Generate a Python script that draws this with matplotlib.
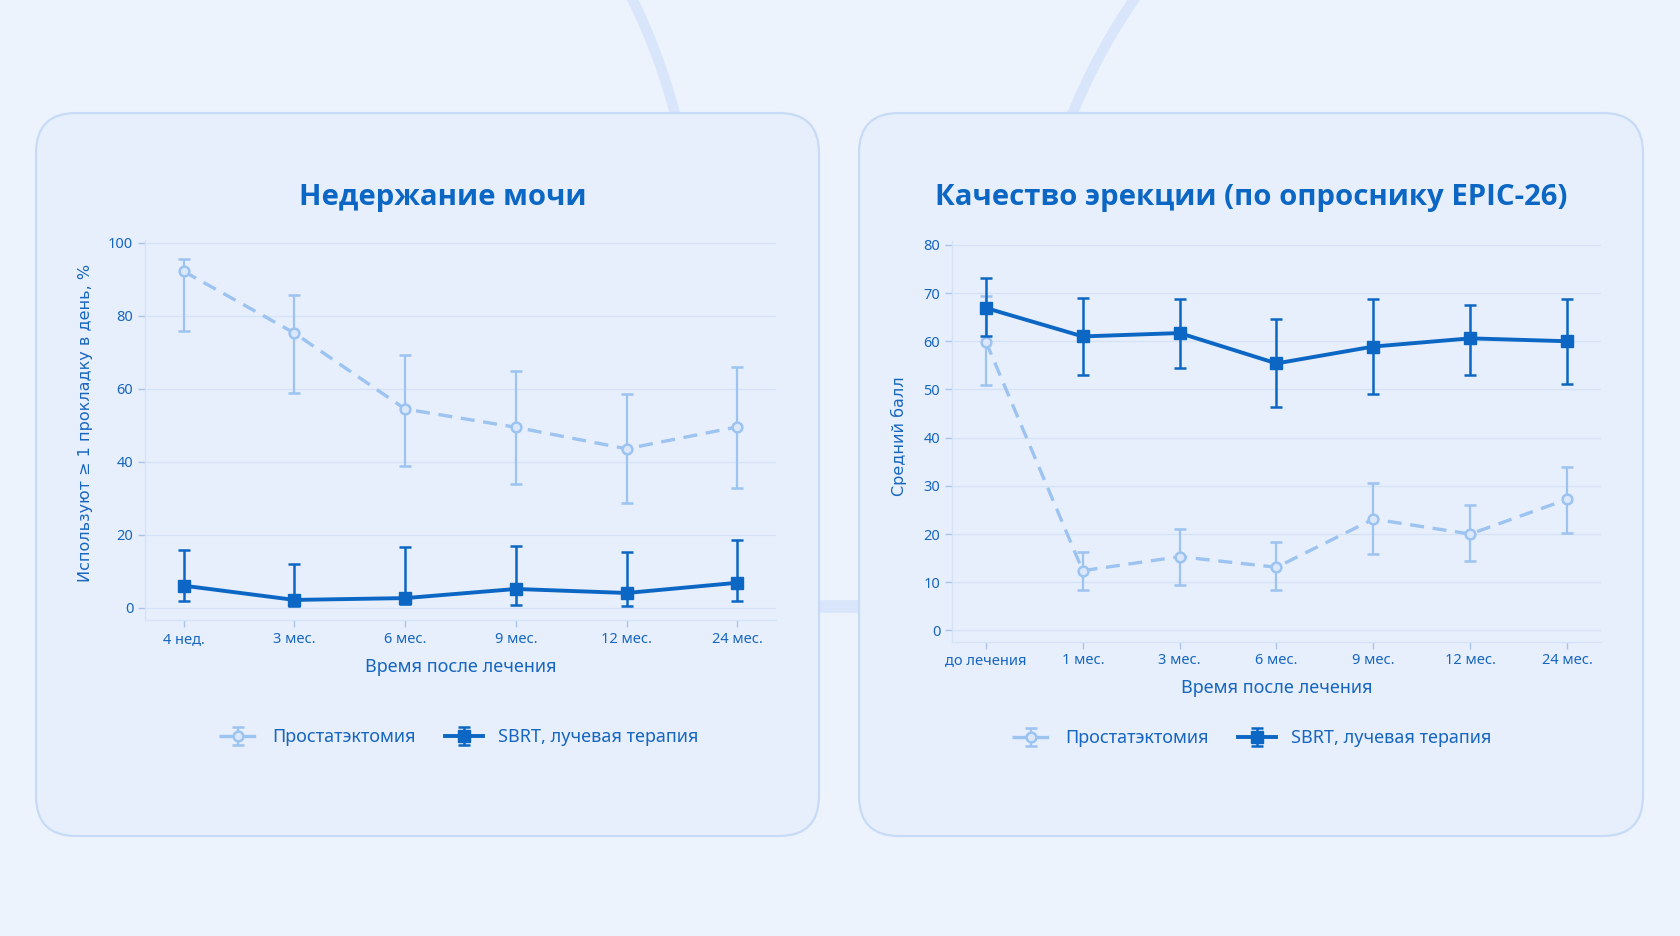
import matplotlib
matplotlib.use("Agg")
import matplotlib.pyplot as plt
from matplotlib.patches import FancyBboxPatch, Arc
import numpy as np

# ---------------- data ----------------
inc_categories = ["4 нед.", "3 мес.", "6 мес.", "9 мес.", "12 мес.", "24 мес."]
inc_prost = [92.2, 75.3, 54.5, 49.5, 43.6, 49.6]
inc_prost_low = [76.0, 58.8, 38.9, 34.0, 28.8, 32.9]
inc_prost_high = [95.6, 85.7, 69.3, 65.0, 58.5, 66.1]
inc_sbrt = [6.1, 2.2, 2.7, 5.2, 4.1, 6.9]
inc_sbrt_low = [1.9, 0.5, 1.0, 0.8, 0.6, 2.0]
inc_sbrt_high = [16.0, 12.1, 16.6, 16.9, 15.2, 18.5]

ere_categories = ["до лечения", "1 мес.", "3 мес.", "6 мес.", "9 мес.", "12 мес.", "24 мес."]
ere_prost = [59.9, 12.4, 15.3, 13.1, 23.1, 20.0, 27.2]
ere_prost_low = [50.9, 8.3, 9.4, 8.3, 15.9, 14.3, 20.3]
ere_prost_high = [69.4, 16.2, 21.0, 18.3, 30.6, 26.0, 34.0]
ere_sbrt = [66.9, 61.0, 61.7, 55.4, 58.9, 60.6, 60.0]
ere_sbrt_low = [61.0, 53.1, 54.4, 46.3, 49.1, 53.1, 51.2]
ere_sbrt_high = [73.1, 69.0, 68.7, 64.7, 68.7, 67.6, 68.7]

series_names = ["Простатэктомия", "SBRT, лучевая терапия"]
titles = ["Недержание мочи", "Качество эрекции (по опроснику EPIC-26)"]
ylabels = ["Используют ≥ 1 прокладку в день, %", "Средний балл"]
xlabel = "Время после лечения"

# ---------------- style ----------------
W, H = 1681, 936
BG = "#edf3fd"
CARD = "#e7effc"
CARD_EDGE = "#c8dbf6"
DECOR = "#d8e5fb"
DARK = "#0c67c4"
LIGHT = "#9dc3f1"
TEXT = "#1766c0"
GRID = "#d6e3f6"

fig = plt.figure(figsize=(W / 100, H / 100), dpi=100, facecolor=BG)

# background layer in pixel coordinates
bg = fig.add_axes([0, 0, 1, 1], zorder=-10)
bg.set_xlim(0, W)
bg.set_ylim(H, 0)
bg.axis("off")
bg.set_facecolor(BG)

# decorative arcs behind cards
bg.add_patch(Arc((94, 264), 1200, 1200, theta1=-40, theta2=-10, color=DECOR, lw=7.5, zorder=1))
bg.add_patch(Arc((1631, 341), 1206, 1206, theta1=196, theta2=225, color=DECOR, lw=7.5, zorder=1))
bg.plot([800, 880], [606, 606], color=DECOR, lw=9, solid_capstyle="butt", zorder=1)

for (x0, x1) in [(36, 819), (859, 1643)]:
    bg.add_patch(FancyBboxPatch((x0, 113), x1 - x0, 836 - 113,
                                boxstyle="round,pad=0,rounding_size=40",
                                facecolor=CARD, edgecolor=CARD_EDGE, lw=1.6, zorder=2))

def px_rect(left, top, right, bottom):
    return [left / W, 1 - bottom / H, (right - left) / W, (bottom - top) / H]

ax1 = fig.add_axes(px_rect(145, 240, 776, 620))
ax2 = fig.add_axes(px_rect(952, 241, 1601, 641.5))

def style_axes(ax, ncat, ylim, yticks):
    ax.set_facecolor("none")
    ax.set_xlim(-0.35, ncat - 1 + 0.35)
    ax.set_ylim(*ylim)
    ax.set_yticks(yticks)
    ax.grid(axis="y", color=GRID, lw=1.0, zorder=0)
    ax.set_axisbelow(True)
    for s in ["top", "right"]:
        ax.spines[s].set_visible(False)
    for s in ["left", "bottom"]:
        ax.spines[s].set_color(GRID)
        ax.spines[s].set_linewidth(1.0)
    ax.tick_params(axis="both", colors="#a9c5ea", labelcolor=TEXT, length=5, width=1.0,
                   labelsize=10.5)
    for lab in ax.get_xticklabels() + ax.get_yticklabels():
        lab.set_fontfamily("Noto Sans")

def draw(ax, cats, prost, plo, phi, sbrt, slo, shi):
    x = np.arange(len(cats))
    pe = [np.array(prost) - np.array(plo), np.array(phi) - np.array(prost)]
    se = [np.array(sbrt) - np.array(slo), np.array(shi) - np.array(sbrt)]
    h1 = ax.errorbar(x, prost, yerr=pe, color=LIGHT, ls=(0, (4.2, 2.6)), lw=2.4,
                     marker="o", ms=7, mfc="#dbe8fb", mec=LIGHT, mew=1.8,
                     ecolor=LIGHT, elinewidth=1.6, capsize=4.0, capthick=1.6,
                     label=series_names[0], zorder=3)
    h2 = ax.errorbar(x, sbrt, yerr=se, color=DARK, ls="-", lw=2.8,
                     marker="s", ms=9, mfc=DARK, mec=DARK,
                     ecolor=DARK, elinewidth=1.8, capsize=4.2, capthick=1.8,
                     label=series_names[1], zorder=4)
    ax.set_xticks(x)
    ax.set_xticklabels(cats)
    return h1, h2

draw(ax1, inc_categories, inc_prost, inc_prost_low, inc_prost_high,
     inc_sbrt, inc_sbrt_low, inc_sbrt_high)
draw(ax2, ere_categories, ere_prost, ere_prost_low, ere_prost_high,
     ere_sbrt, ere_sbrt_low, ere_sbrt_high)
style_axes(ax1, len(inc_categories), (-3.3, 100.8), np.arange(0, 101, 20))
style_axes(ax2, len(ere_categories), (-2.3, 80.8), np.arange(0, 81, 10))

for ax, yl, lx, ly in [(ax1, ylabels[0], -0.083, 0.518), (ax2, ylabels[1], -0.07, 0.512)]:
    ax.set_ylabel(yl, color=TEXT, fontsize=11.5, family="DejaVu Sans")
    ax.yaxis.set_label_coords(lx, ly)
    ax.set_xlabel(xlabel, color=TEXT, fontsize=13, family="Noto Sans", labelpad=8)

# titles
for (cx, cy), t in zip([(443, 197), (1251, 197)], titles):
    fig.text(cx / W, 1 - cy / H, t, ha="center", va="center", color=DARK,
             fontsize=21.2, fontweight="bold", family="Open Sans")

# legends
for ax, (cx, cy) in [(ax1, (459, 737)), (ax2, (1252, 738))]:
    leg = ax.legend(loc="center", bbox_to_anchor=(cx / W, 1 - cy / H),
                    bbox_transform=fig.transFigure, ncol=2, frameon=False,
                    prop={"family": "Noto Sans", "size": 13},
                    handlelength=2.1, handletextpad=0.85, columnspacing=1.6)
    for txt in leg.get_texts():
        txt.set_color(TEXT)

fig.savefig("out.png", dpi=100, facecolor=BG)
